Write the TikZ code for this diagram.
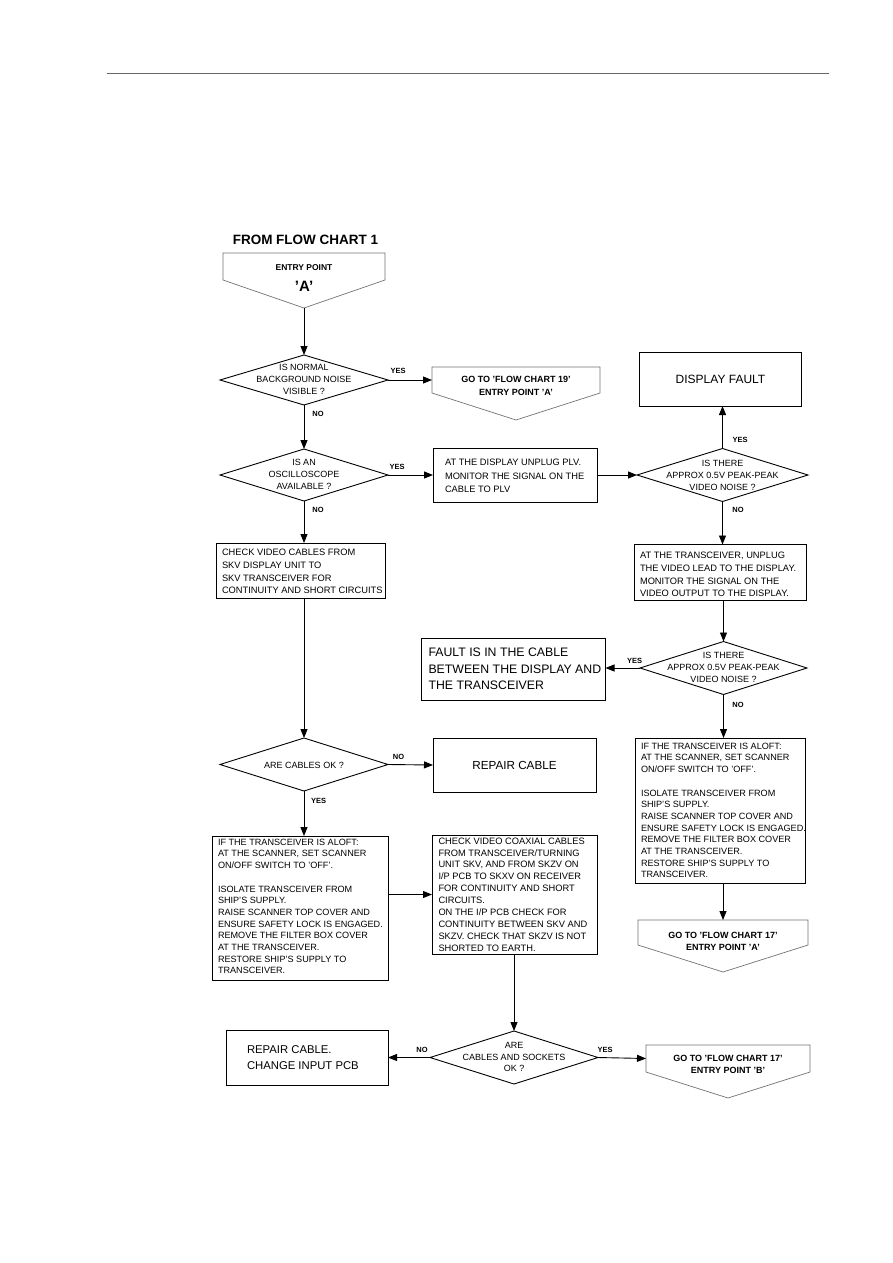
\documentclass[tikz,border=0pt]{standalone}
\usepackage{fontspec}
\setmainfont{Liberation Sans}
\usetikzlibrary{shapes.geometric,arrows.meta}
\newcommand\myfs[2]{\fontsize{#1}{#2}\selectfont}
\newcommand\bigtxt{IF THE TRANSCEIVER IS ALOFT:\\AT THE SCANNER, SET SCANNER\\ON/OFF SWITCH TO 'OFF'.\\[11.7pt]ISOLATE TRANSCEIVER FROM\\SHIP'S SUPPLY.\\RAISE SCANNER TOP COVER AND\\ENSURE SAFETY LOCK IS ENGAGED.\\REMOVE THE FILTER BOX COVER\\AT THE TRANSCEIVER.\\RESTORE SHIP'S SUPPLY TO\\TRANSCEIVER.}
\begin{document}
\begin{tikzpicture}[x=1pt,y=-1pt,
  every node/.style={inner sep=0pt,outer sep=0pt},
  box/.style={draw,line width=0.9pt},
  btxt/.style={font=\myfs{9.3}{12.8},align=left,anchor=west},
  bigbox/.style={draw,line width=0.9pt,align=left},
  dia/.style={draw,diamond,line width=0.9pt,minimum width=168,minimum height=52},
  dtxt/.style={font=\myfs{9}{11.9},align=center},
  lbl/.style={font=\bfseries\myfs{7.5}{9}},
  arr/.style={line width=0.9pt,-{Triangle[length=9pt,width=7pt]}},
  pent/.style={draw=black!55,line width=0.7pt},
  gotxt/.style={font=\bfseries\myfs{9}{12.5},align=center}]
\useasboundingbox (0,0) rectangle (893,1263);
\fill[white] (0,0) rectangle (893,1263);
% header rule
\draw[line width=0.6pt,black!60] (107,73) -- (829,73);
% heading
\node[font=\bfseries\myfs{13.5}{15}] (head) at (305.5,240) {FROM FLOW CHART 1};
% entry point A
\node[minimum width=162,minimum height=27] (entry) at (304,266.5) {};
\coordinate (entrytip) at (304,308);
\draw[pent] (entry.north west) -- (entry.north east) -- (entry.south east) -- (entrytip) -- (entry.south west) -- cycle;
\node[font=\bfseries\myfs{8.5}{10}] (entryt1) at (304,268) {ENTRY POINT};
\node[font=\bfseries\myfs{15}{16}] (entryt2) at (304,286) {'A'};
% diamond 1
\node[dia,minimum height=50] (d1) at (304,380) {};
\node[dtxt] (d1t) at (304,379.5) {IS NORMAL\\BACKGROUND NOISE\\VISIBLE ?};
% goto 19
\node[minimum width=168,minimum height=26] (g19) at (516,380) {};
\coordinate (g19tip) at (516,420);
\draw[pent] (g19.north west) -- (g19.north east) -- (g19.south east) -- (g19tip) -- (g19.south west) -- cycle;
\node[gotxt] (g19t) at (516,386) {GO TO 'FLOW CHART 19'\\ENTRY POINT 'A'};
% diamond 2
\node[dia] (d2) at (304,475) {};
\node[dtxt] (d2t) at (304,474.5) {IS AN\\OSCILLOSCOPE\\AVAILABLE ?};
% PLV box
\node[box,minimum width=164,minimum height=54] (plv) at (515,475) {};
\node[btxt,font=\myfs{9.3}{13.5}] (plvt) at ([xshift=12pt,yshift=-1pt]plv.west) {AT THE DISPLAY UNPLUG PLV.\\MONITOR THE SIGNAL ON THE\\CABLE TO PLV};
% diamond 3
\node[dia,minimum width=171,minimum height=53] (d3) at (722.5,475) {};
\node[dtxt] (d3t) at (722.5,475) {IS THERE\\APPROX 0.5V PEAK-PEAK\\VIDEO NOISE ?};
% display fault
\node[bigbox,font=\myfs{12}{14},minimum width=162,minimum height=54] (disp) at (720.5,379) {DISPLAY FAULT};
% check video cables
\node[box,minimum width=169,minimum height=55] (chk) at (300.5,570.5) {};
\node[btxt] (chkt) at ([xshift=6pt,yshift=-1pt]chk.west) {CHECK VIDEO CABLES FROM\\SKV DISPLAY UNIT TO\\SKV TRANSCEIVER FOR\\CONTINUITY AND SHORT CIRCUITS};
% transceiver unplug
\node[box,minimum width=172,minimum height=56] (trans) at (720,572.5) {};
\node[btxt] (transt) at ([xshift=6pt,yshift=-2pt]trans.west) {AT THE TRANSCEIVER, UNPLUG\\THE VIDEO LEAD TO THE DISPLAY.\\MONITOR THE SIGNAL ON THE\\VIDEO OUTPUT TO THE DISPLAY.};
% diamond 4
\node[dia,minimum width=167,minimum height=53] (d4) at (723.5,668) {};
\node[dtxt] (d4t) at (723.5,667.5) {IS THERE\\APPROX 0.5V PEAK-PEAK\\VIDEO NOISE ?};
% fault in cable
\node[box,minimum width=184,minimum height=62] (fault) at (513.5,669) {};
\node[btxt,font=\myfs{12.3}{16.5}] (faultt) at ([xshift=7pt]fault.west) {FAULT IS IN THE CABLE\\BETWEEN THE DISPLAY AND\\THE TRANSCEIVER};
% right big box
\node[box,minimum width=170,minimum height=145] (rbig) at (720,810.5) {};
\node[btxt,font=\myfs{9.1}{11.7}] (rbigt) at ([xshift=6pt]rbig.west) {\bigtxt};
% goto 17 A
\node[minimum width=170,minimum height=25] (g17a) at (723,932.5) {};
\coordinate (g17atip) at (723,972);
\draw[pent] (g17a.north west) -- (g17a.north east) -- (g17a.south east) -- (g17atip) -- (g17a.south west) -- cycle;
\node[gotxt] (g17at) at (723,941.5) {GO TO 'FLOW CHART 17'\\ENTRY POINT 'A'};
% diamond 5
\node[dia,minimum height=53] (d5) at (304,764.5) {};
\node[dtxt] (d5t) at (304,765) {ARE CABLES OK ?};
% repair cable
\node[bigbox,font=\myfs{11.7}{14},minimum width=163,minimum height=54] (rep) at (514.5,765) {REPAIR CABLE};
% left big box
\node[box,minimum width=176,minimum height=144] (lbig) at (300,908) {};
\node[btxt,font=\myfs{9.1}{11.7}] (lbigt) at ([xshift=6pt,yshift=1.5pt]lbig.west) {\bigtxt};
% middle box
\node[box,minimum width=165,minimum height=119] (mid) at (514.5,894.5) {};
\node[btxt,font=\myfs{9.3}{11.9}] (midt) at ([xshift=6.5pt]mid.west) {CHECK VIDEO COAXIAL CABLES\\FROM TRANSCEIVER/TURNING\\UNIT SKV, AND FROM SKZV ON\\I/P PCB TO SKXV ON RECEIVER\\FOR CONTINUITY AND SHORT\\CIRCUITS.\\ON THE I/P PCB CHECK FOR\\CONTINUITY BETWEEN SKV AND\\SKZV. CHECK THAT SKZV IS NOT\\SHORTED TO EARTH.};
% diamond 6
\node[dia,minimum height=53] (d6) at (514,1057.5) {};
\node[dtxt] (d6t) at (514,1057) {ARE\\CABLES AND SOCKETS\\OK ?};
% repair cable / change input
\node[box,minimum width=162,minimum height=55] (chg) at (307,1057.5) {};
\node[btxt,font=\myfs{11.3}{16}] (chgt) at ([xshift=21pt]chg.west) {REPAIR CABLE.\\CHANGE INPUT PCB};
% goto 17 B
\node[minimum width=164,minimum height=27] (g17b) at (728,1058.5) {};
\coordinate (g17btip) at (728,1098);
\draw[pent] (g17b.north west) -- (g17b.north east) -- (g17b.south east) -- (g17btip) -- (g17b.south west) -- cycle;
\node[gotxt] (g17bt) at (728,1064.5) {GO TO 'FLOW CHART 17'\\ENTRY POINT 'B'};
% labels
\node[lbl] (y1) at (398,370.5) {YES};
\node[lbl] (n1) at (318,414) {NO};
\node[lbl] (y2) at (397,467) {YES};
\node[lbl] (n2) at (318,510) {NO};
\node[lbl] (y3) at (740,440) {YES};
\node[lbl] (n3) at (738,510) {NO};
\node[lbl] (y4) at (634.5,660.5) {YES};
\node[lbl] (n4) at (738,705) {NO};
\node[lbl] (n5) at (398.5,757) {NO};
\node[lbl] (y5) at (318.5,800.5) {YES};
\node[lbl] (n6) at (422,1050) {NO};
\node[lbl] (y6) at (605,1050) {YES};
% connectors
\draw[arr] (entrytip) -- (d1.north);
\draw[arr] (d1.east) -- (g19.west);
\draw[arr] (d1.south) -- (d2.north);
\draw[arr] (d2.east) -- (plv.west);
\draw[arr] (plv.east) -- (d3.west);
\draw[arr] (d3.north) -- (d3.north |- disp.south);
\draw[arr] (d3.south) -- (d3.south |- trans.north);
\draw[arr] (d4.north |- trans.south) -- (d4.north);
\draw[arr] (d4.west) -- (d4.west -| fault.east);
\draw[arr] (d4.south) -- (d4.south |- rbig.north);
\draw[arr] (g17a.north |- rbig.south) -- (g17a.north);
\draw[arr] (d2.south) -- (d2.south |- chk.north);
\draw[arr] (d5.north |- chk.south) -- (d5.north);
\draw[arr] (d5.east) -- (rep.west);
\draw[arr] (d5.south) -- (d5.south |- lbig.north);
\draw[arr] (lbig.east |- mid.west) -- (mid.west);
\draw[arr] (d6.north |- mid.south) -- (d6.north);
\draw[arr] (d6.west) -- (chg.east);
\draw[arr] (d6.east) -- (g17b.west);
\end{tikzpicture}
\end{document}
